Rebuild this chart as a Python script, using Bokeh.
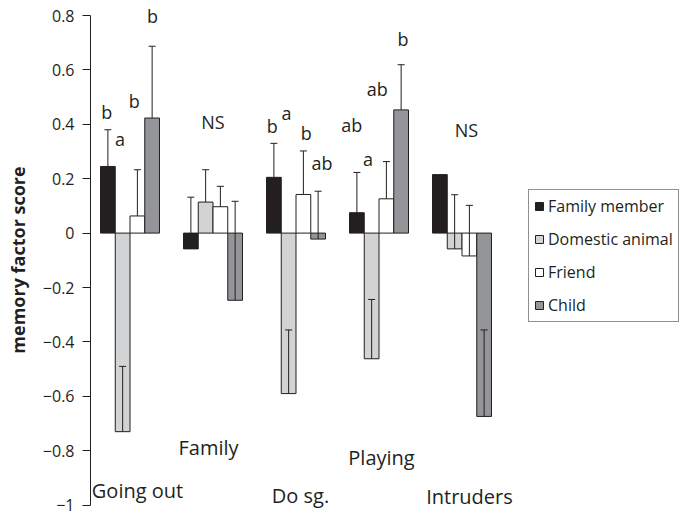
from bokeh.plotting import figure
from bokeh.models import (Range1d, FixedTicker, Whisker, TeeHead, ColumnDataSource,
                          Legend, LegendItem)
from bokeh.core.properties import value
from bokeh.embed import file_html
from bokeh.resources import INLINE

# ---------------- data ----------------
categories = ["Going out", "Family", "Do sg.", "Playing", "Intruders"]
series = ["Family member", "Domestic animal", "Friend", "Child"]

family_member = [0.245, -0.058, 0.205, 0.075, 0.215]
domestic_animal = [-0.730, 0.114, -0.590, -0.462, -0.058]
friend = [0.063, 0.097, 0.142, 0.126, -0.084]
child = [0.423, -0.247, -0.022, 0.453, -0.674]

family_member_err = [0.135, 0.190, 0.125, 0.148, 0.0]
domestic_animal_err = [0.240, 0.119, 0.234, 0.218, 0.199]
friend_err = [0.170, 0.075, 0.160, 0.137, 0.186]
child_err = [0.264, 0.364, 0.176, 0.166, 0.318]

# significance letters (category index, series index or None for group, label)
letter_cat = [0, 0, 0, 0, 1, 2, 2, 2, 2, 3, 3, 3, 3, 4]
letter_bar = [0, 1, 2, 3, None, 0, 1, 2, 3, 0, 1, 2, 3, None]
letters = ["b", "a", "b", "b", "NS", "b", "a", "b", "ab", "ab", "a", "ab", "b", "NS"]

y_ticks = [-1, -0.8, -0.6, -0.4, -0.2, 0, 0.2, 0.4, 0.6, 0.8]
y_tick_labels = ["\u22121", "\u22120.8", "\u22120.6", "\u22120.4", "\u22120.2",
                 "0", "0.2", "0.4", "0.6", "0.8"]

# ---------------- layout / style ----------------
PX = 83.0                     # pixels per category unit
PY = 272.0                    # pixels per y unit
BAR_W = 14.75 / PX
DARK = "#231f20"
colors = ["#231f20", "#d1d3d4", "#ffffff", "#939598"]
FONT = "Open Sans"

letter_y = [0.447, 0.347, 0.484, 0.799, 0.41, 0.393, 0.441, 0.368, 0.259,
            0.399, 0.274, 0.528, 0.714, 0.38]
letter_dx = [-1, -2.5, -3, 0.5, 0, -1.5, -2, 3, 4, -5, -3.5, -9, 2, 4.5]
cat_label_y = [-0.945, -0.789, -0.965, -0.825, -0.970]
cat_label_dx = [7.5, -4.5, 4.5, 2.5, 7.5]

W, H = 683, 519
LEFT = 90
x_start = -(129.5 - LEFT) / PX
x_end = x_start + (W - LEFT) / PX
y_end = 0.8 + 15 / PY
y_start = y_end - H / PY

p = figure(width=W, height=H, output_backend="svg", toolbar_location=None,
           x_range=Range1d(x_start, x_end), y_range=Range1d(y_start, y_end),
           x_axis_location=None, min_border_left=LEFT, min_border_right=0,
           min_border_top=0, min_border_bottom=0)
p.outline_line_color = None
p.grid.visible = False
p.background_fill_color = "white"
p.border_fill_color = "white"

values = [family_member, domestic_animal, friend, child]
errors = [family_member_err, domestic_animal_err, friend_err, child_err]

renderers = []
wx, wl, wu = [], [], []
for j, (vals, errs) in enumerate(zip(values, errors)):
    off = (j - 1.5) * BAR_W
    xs = [i + off for i in range(len(categories))]
    src = ColumnDataSource(dict(x=xs, top=vals))
    r = p.vbar(x="x", top="top", bottom=0, width=BAR_W, source=src,
               fill_color=colors[j], line_color=DARK, line_width=1)
    renderers.append(r)
    for x, v, e in zip(xs, vals, errs):
        if e > 0:
            wx.append(x)
            wl.append(v)
            wu.append(v + e)

wsrc = ColumnDataSource(dict(x=wx, lower=wl, upper=wu))
whisk = Whisker(base="x", lower="lower", upper="upper", source=wsrc,
                dimension="height", line_color=DARK, line_width=1,
                lower_head=None,
                upper_head=TeeHead(size=7, line_color=DARK, line_width=1),
                level="annotation")
p.add_layout(whisk)

# significance letters
lx = []
for c, b, dx in zip(letter_cat, letter_bar, letter_dx):
    base = c if b is None else c + (b - 1.5) * BAR_W
    lx.append(base + dx / PX)
p.text(x=lx, y=letter_y, text=letters, text_align="center",
       text_baseline="middle", text_font=value(FONT), text_font_size="18px",
       text_color=DARK)

# category labels
cx = [i + dx / PX for i, dx in enumerate(cat_label_dx)]
p.text(x=cx, y=cat_label_y, text=categories, text_align="center",
       text_baseline="middle", text_font=value(FONT), text_font_size="20px",
       text_color=DARK)

# y axis
ax = p.yaxis[0]
ax.bounds = (-1, 0.8)
ax.ticker = FixedTicker(ticks=y_ticks, minor_ticks=[])
ax.major_label_overrides = {t: l for t, l in zip(y_ticks, y_tick_labels)}
ax.major_tick_in = 0
ax.major_tick_out = 8
ax.minor_tick_line_color = None
ax.axis_line_color = DARK
ax.major_tick_line_color = DARK
ax.major_label_text_font = FONT
ax.major_label_text_font_size = "16px"
ax.major_label_text_color = DARK
ax.major_label_standoff = 8
ax.axis_label = "memory factor score"
ax.axis_label_text_font = FONT
ax.axis_label_text_font_style = "bold"
ax.axis_label_text_font_size = "18px"
ax.axis_label_text_color = DARK
ax.axis_label_standoff = 10

legend = Legend(items=[LegendItem(label=s, renderers=[r]) for s, r in zip(series, renderers)],
                location=(438, 197), orientation="vertical",
                glyph_width=10, glyph_height=10, label_height=20, spacing=11,
                padding=5, label_standoff=4, margin=0,
                border_line_color=DARK, border_line_width=1,
                background_fill_color="white", background_fill_alpha=1,
                label_text_font=FONT, label_text_font_size="16px",
                label_text_color=DARK)
p.add_layout(legend)

open("out.html", "w").write(file_html(p, INLINE))
